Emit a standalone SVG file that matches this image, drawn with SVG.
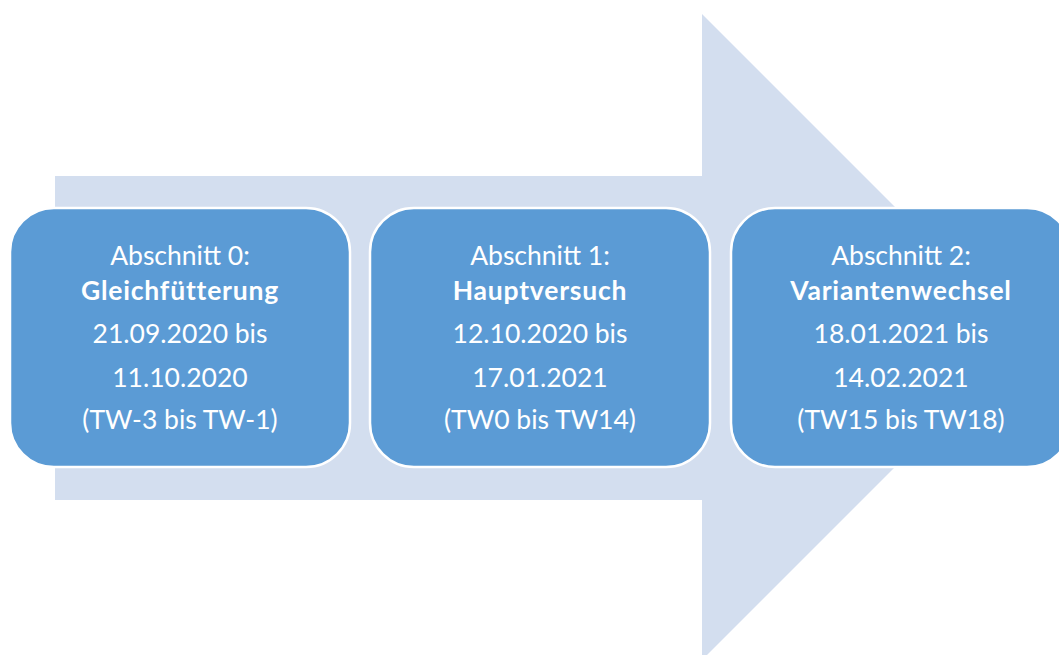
<svg xmlns="http://www.w3.org/2000/svg" width="1059" height="655" viewBox="0 0 1059 655">
<style>
.box{fill:#5B9BD5;stroke:#FFFFFF;stroke-width:2.5}
.t{font-family:Lato,"Open Sans","Liberation Sans",sans-serif;font-size:26.5px;fill:#FFFFFF;text-anchor:middle}
.b{font-weight:bold;letter-spacing:0.8px}
</style>
<g id="arrow">
<polygon points="55,176 702,176 702,14 1025,337 702,660 702,500 55,500" fill="#D3DEEF"/>
</g>
<g id="connectors"></g>
<g id="node0">
<rect class="box" x="10" y="208" width="340" height="259" rx="44" ry="44"/>
<text class="t" x="180" y="265">Abschnitt 0:</text>
<text class="t b" x="180" y="300">Gleichfütterung</text>
<text class="t" x="180" y="343">21.09.2020 bis</text>
<text class="t" x="180" y="387">11.10.2020</text>
<text class="t" x="180" y="429">(TW-3 bis TW-1)</text>
</g>
<g id="node1">
<rect class="box" x="370" y="208" width="340" height="259" rx="44" ry="44"/>
<text class="t" x="540" y="265">Abschnitt 1:</text>
<text class="t b" x="540" y="300">Hauptversuch</text>
<text class="t" x="540" y="343">12.10.2020 bis</text>
<text class="t" x="540" y="387">17.01.2021</text>
<text class="t" x="540" y="429">(TW0 bis TW14)</text>
</g>
<g id="node2">
<rect class="box" x="731" y="208" width="340" height="259" rx="44" ry="44"/>
<text class="t" x="901" y="265">Abschnitt 2:</text>
<text class="t b" x="901" y="300">Variantenwechsel</text>
<text class="t" x="901" y="343">18.01.2021 bis</text>
<text class="t" x="901" y="387">14.02.2021</text>
<text class="t" x="901" y="429">(TW15 bis TW18)</text>
</g>
</svg>
